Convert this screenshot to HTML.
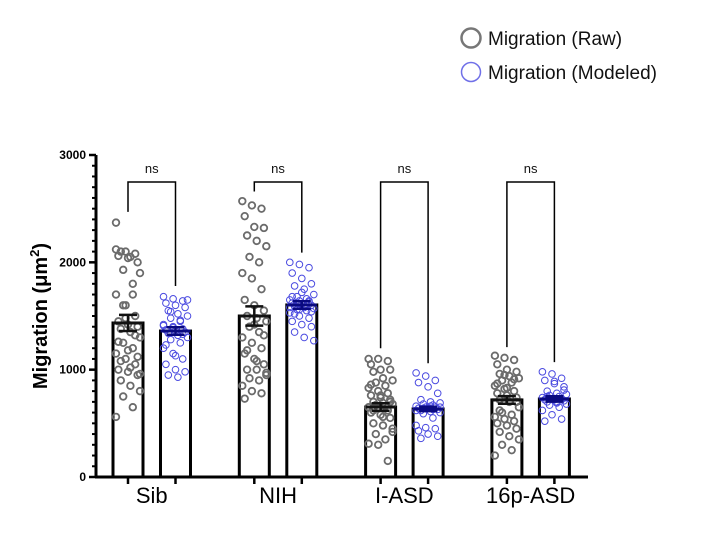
<!DOCTYPE html>
<html><head><meta charset="utf-8"><style>
body{margin:0;background:#fff;width:722px;height:541px;overflow:hidden;font-family:"Liberation Sans",sans-serif}
</style></head><body>
<svg id="chart" width="722" height="541" viewBox="0 0 722 541" xmlns="http://www.w3.org/2000/svg" font-family="Liberation Sans, sans-serif">
<g>
<g><circle cx="471" cy="38" r="9.5" fill="none" stroke="#777" stroke-width="2.5"/><text x="488" y="45" font-size="19" fill="#111">Migration (Raw)</text></g>
<g><circle cx="471" cy="72" r="9.5" fill="none" stroke="#7070e8" stroke-width="1.5"/><text x="488" y="79" font-size="19" fill="#111">Migration (Modeled)</text></g>
</g>
<text transform="translate(47,316) rotate(-90)" text-anchor="middle" font-size="20" font-weight="bold" fill="#000">Migration (μm<tspan dy="-8" font-size="13">2</tspan><tspan dy="8">)</tspan></text>
<g id="plot"></g>
</svg>
<script>
const groups=["Sib","NIH","I-ASD","16p-ASD"];
const rawMeans=[1435,1500,652,718];
const rawSem=[75,90,35,35];
const modMeans=[1360,1603,634,727];
const modSem=[35,35,20,25];
const bracketLeft=[2470,2660,1200,1210];
const bracketRight=[1780,2090,1060,1070];
const yTicks=[0,1000,2000,3000];
const rawPts=[
[2370,2100,2080,2060,2040,2000,2100,2050,1900,1930,1800,1700,1600,1500,1450,1420,1400,1380,1350,1300,1250,1200,1150,1100,1050,1000,980,950,900,850,800,750,650,560,1480,1320,1260,1180,1120,1080,1020,960,1600,1700,2120],
[2570,2530,2500,2430,2330,2320,2250,2200,2150,2050,2000,1900,1850,1750,1650,1600,1550,1500,1480,1450,1400,1350,1300,1250,1200,1150,1100,1050,1000,1000,950,920,900,850,800,780,730,1420,1320,1180,1080,970],
[1100,1100,1080,1050,1000,1000,980,920,900,880,850,830,800,780,760,740,720,700,690,680,670,660,650,640,620,600,580,550,500,480,450,400,350,310,300,150,860,760,700,620,560,420],
[1130,1110,1090,1050,1000,980,960,940,920,900,880,850,820,800,780,760,740,720,700,650,600,580,560,540,520,500,480,450,420,380,350,300,250,200,950,910,870,830,700,620]];
const modPts=[
[1680,1660,1640,1620,1600,1580,1550,1520,1500,1480,1450,1420,1400,1380,1370,1360,1350,1340,1320,1300,1280,1250,1200,1150,1100,1050,1000,980,950,930,1650,1540,1460,1410,1390,1330,1230,1130],
[2000,1980,1950,1900,1850,1800,1780,1750,1700,1680,1660,1650,1640,1630,1620,1610,1600,1590,1580,1570,1560,1550,1530,1500,1480,1450,1420,1400,1350,1300,1270,1620,1600,1580,1560,1640,1680,1720,1540,1520],
[970,940,900,880,840,780,720,700,690,680,670,660,650,650,640,640,630,620,610,600,590,550,480,460,450,430,400,380,360,660,650,640,630,620],
[980,960,920,900,870,840,800,780,770,760,750,740,730,730,720,720,710,700,690,680,670,650,620,580,540,520,890,810,750,700]];

const NS="http://www.w3.org/2000/svg";
const plot=document.getElementById('plot');
const y0=477, yTop=155, yMax=3000;
function y(v){return y0-(v/yMax)*(y0-yTop);}
function gx(i){return 128+i*126.3;}
function mk(tag,a,parent){const e=document.createElementNS(NS,tag);for(const k in a)e.setAttribute(k,a[k]);(parent||plot).appendChild(e);return e;}
const bw=30;
const ax=mk('g',{});


mk('line',{x1:96,y1:y0+1,x2:96,y2:yTop,stroke:'#000','stroke-width':3},ax);
for(let v=0;v<=yMax;v+=100){
  const major=v%1000===0;
  mk('line',{x1:major?89:92,x2:96,y1:y(v),y2:y(v),stroke:'#000','stroke-width':major?2.5:2},ax);
}
yTicks.forEach(v=>{const t=mk('text',{x:86,y:y(v)+4,'text-anchor':'end','font-size':12,'font-weight':'bold'},ax);t.textContent=v;

});
const xa=mk('g',{});


mk('line',{x1:95,x2:588,y1:y0,y2:y0,stroke:'#000','stroke-width':3},xa);
function jit(i){return (((i*37)%11)-5)/5;}
groups.forEach((g,i)=>{
  const cx=gx(i), cm=gx(i)+47.5;
  [[cx,rawMeans[i],rawSem[i],rawPts[i],'raw'],[cm,modMeans[i],modSem[i],modPts[i],'modeled']].forEach(([c,m,s,pts,kind])=>{
    const bar=mk('rect',{x:c-bw/2,y:y(m),width:bw,height:y0-y(m),fill:'#fff',stroke:'#000','stroke-width':3});
    
    
    mk('line',{x1:c,x2:c,y1:y0,y2:y0+7,stroke:'#000','stroke-width':2.5},xa);
    const pg=mk('g',{});
    
    
    pts.forEach((v,j)=>{
      const spread=12;
      const p=mk('circle',{cx:c+jit(j)*spread,cy:y(v),r:3.3,fill:'none',stroke:kind==='raw'?'#6b6b6b':'#4a4ae0','stroke-width':kind==='raw'?1.8:1},pg);
      
      
    });
    const col=kind==='raw'?'#111':'#0a0a80';
    const eb=mk('g',{});
    
    
    mk('line',{x1:c,x2:c,y1:y(m+s),y2:y(m-s),stroke:col,'stroke-width':2.5},eb);
    mk('line',{x1:c-9,x2:c+9,y1:y(m+s),y2:y(m+s),stroke:col,'stroke-width':2.5},eb);
    mk('line',{x1:c-9,x2:c+9,y1:y(m-s),y2:y(m-s),stroke:col,'stroke-width':2.5},eb);
    mk('line',{x1:c-bw/2,x2:c+bw/2,y1:y(m),y2:y(m),stroke:col,'stroke-width':3},eb);
  });
  const br=mk('path',{d:`M${cx},${y(bracketLeft[i])} V182 H${cm} V${y(bracketRight[i])}`,fill:'none',stroke:'#000','stroke-width':1.5});
  
  
  const ns=mk('text',{x:(cx+cm)/2,y:173,'text-anchor':'middle','font-size':13,fill:'#111'});
  ns.textContent='ns';
  
  
  const lb=mk('text',{x:(cx+cm)/2,y:503,'text-anchor':'middle','font-size':22,fill:'#000'},xa);
  lb.textContent=g;
  
  
});
</script>
</body></html>
